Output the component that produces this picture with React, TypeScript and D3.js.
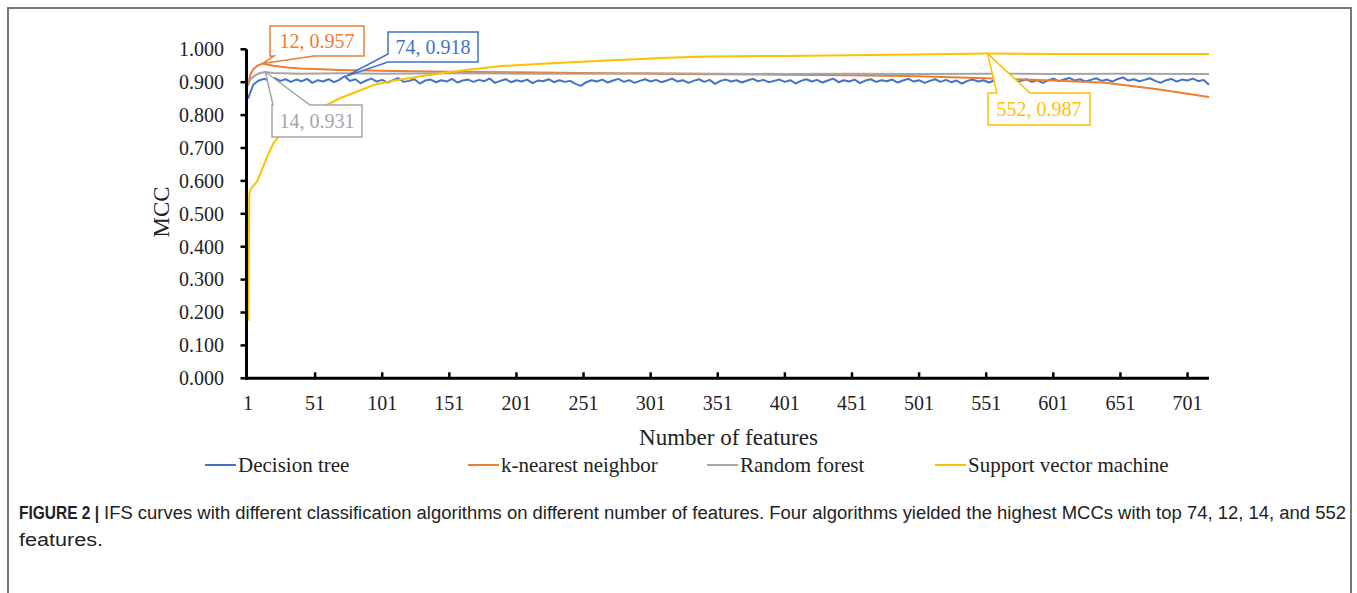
import * as d3 from 'd3'

const W = 1357
const H = 593

// category axis labels and value ticks
const xTicks = [1, 51, 101, 151, 201, 251, 301, 351, 401, 451, 501, 551, 601, 651, 701]
const yTicks = [0, 0.1, 0.2, 0.3, 0.4, 0.5, 0.6, 0.7, 0.8, 0.9, 1.0]

// decision tree, one value every 4 features starting at 1
const dtStep = 4
const dtValues = [
  0.850, 0.893, 0.905, 0.910, 0.906, 0.912, 0.904, 0.909, 0.901, 0.908, 0.903, 0.910, 0.898, 0.906, 0.902, 0.909, 0.900, 0.907, 0.918, 0.904,
  0.909, 0.897, 0.905, 0.911, 0.902, 0.907, 0.899, 0.906, 0.912, 0.901, 0.904, 0.909, 0.896, 0.905, 0.908, 0.900, 0.906, 0.902, 0.910, 0.899,
  0.905, 0.908, 0.901, 0.907, 0.903, 0.911, 0.898, 0.904, 0.909, 0.900, 0.906, 0.902, 0.908, 0.897, 0.905, 0.903, 0.909, 0.900, 0.906, 0.901,
  0.904, 0.895, 0.889, 0.900, 0.906, 0.902, 0.908, 0.899, 0.905, 0.910, 0.901, 0.906, 0.898, 0.904, 0.909, 0.902, 0.907, 0.900, 0.905, 0.911,
  0.902, 0.906, 0.898, 0.904, 0.909, 0.901, 0.907, 0.895, 0.904, 0.908, 0.902, 0.906, 0.899, 0.905, 0.910, 0.903, 0.907, 0.900, 0.904, 0.908,
  0.901, 0.906, 0.896, 0.904, 0.909, 0.902, 0.907, 0.899, 0.905, 0.911, 0.900, 0.906, 0.902, 0.908, 0.897, 0.905, 0.909, 0.901, 0.906, 0.903,
  0.908, 0.899, 0.905, 0.910, 0.902, 0.906, 0.898, 0.904, 0.909, 0.901, 0.907, 0.900, 0.905, 0.896, 0.904, 0.908, 0.902, 0.906, 0.899, 0.905,
  0.910, 0.903, 0.907, 0.900, 0.904, 0.909, 0.901, 0.906, 0.898, 0.905, 0.911, 0.903, 0.908, 0.913, 0.905, 0.909, 0.902, 0.907, 0.912, 0.904,
  0.908, 0.902, 0.910, 0.914, 0.905, 0.909, 0.903, 0.907, 0.912, 0.904, 0.898, 0.906, 0.910, 0.902, 0.908, 0.905, 0.911, 0.903, 0.907, 0.892,
]

const knnFeatures = [1, 2, 3, 5, 8, 12, 16, 20, 30, 40, 50, 70, 100, 150, 200, 250, 300, 350, 400, 450, 500, 550, 600, 640, 680, 717]
const knnValues = [0.890, 0.910, 0.925, 0.940, 0.950, 0.957, 0.953, 0.950, 0.945, 0.942, 0.940, 0.937, 0.935, 0.932, 0.930, 0.928, 0.926, 0.924, 0.923, 0.921, 0.918, 0.912, 0.905, 0.898, 0.878, 0.855]

const rfFeatures = [1, 3, 6, 10, 14, 20, 40, 70, 100, 150, 200, 250, 300, 350, 400, 450, 500, 550, 600, 650, 717]
const rfValues = [0.890, 0.910, 0.920, 0.928, 0.931, 0.928, 0.926, 0.927, 0.926, 0.927, 0.926, 0.926, 0.927, 0.926, 0.925, 0.926, 0.925, 0.926, 0.925, 0.926, 0.925]

const svmFeatures = [1, 2, 3, 5, 8, 12, 16, 20, 25, 30, 40, 50, 60, 70, 80, 95, 110, 130, 150, 170, 190, 220, 264, 290, 313, 343, 400, 450, 500, 552, 600, 650, 717]
const svmValues = [0.175, 0.560, 0.575, 0.585, 0.600, 0.640, 0.680, 0.715, 0.740, 0.765, 0.795, 0.812, 0.832, 0.852, 0.868, 0.892, 0.905, 0.918, 0.930, 0.940, 0.949, 0.956, 0.965, 0.970, 0.974, 0.978, 0.980, 0.982, 0.984, 0.987, 0.986, 0.986, 0.986]

const seriesNames = ['Decision tree', 'k-nearest neighbor', 'Random forest', 'Support vector machine']
const seriesColors = ['#4472C4', '#ED7D31', '#A5A5A5', '#FFC000']

// best feature count and MCC per algorithm
const peakFeatures = [74, 12, 14, 552]
const peakValues = [0.918, 0.957, 0.931, 0.987]

const captionBold = 'FIGURE 2 |'
const captionLine1 = 'IFS curves with different classification algorithms on different number of features. Four algorithms yielded the highest MCCs with top 74, 12, 14, and 552'
const captionLine2 = 'features.'

const serif = '"Liberation Serif", "Times New Roman", serif'
const sans = '"Liberation Sans Narrow", "Liberation Sans", Arial, sans-serif'

const x = d3.scaleLinear().domain([1, 717]).range([248, 1209])
const y = d3.scaleLinear().domain([0, 1]).range([378.3, 49.3])

const dtFeatures = dtValues.map((_, i) => 1 + i * dtStep)

const series = [
  { f: dtFeatures, v: dtValues },
  { f: knnFeatures, v: knnValues },
  { f: rfFeatures, v: rfValues },
  { f: svmFeatures, v: svmValues },
]

const line = d3.line<[number, number]>().x(d => x(d[0])).y(d => y(d[1]))

// callout boxes (layout only)
const callouts = [
  { box: { x: 388, y: 32, w: 90, h: 30 }, side: 'left', s0: 54, s1: 62 },
  { box: { x: 270, y: 26, w: 94, h: 30 }, side: 'bottom', s0: 274, s1: 314 },
  { box: { x: 272, y: 105, w: 90, h: 32 }, side: 'top', s0: 273, s1: 310 },
  { box: { x: 988, y: 93, w: 102, h: 32 }, side: 'top', s0: 997, s1: 1030 },
]

function calloutPath(b: { x: number; y: number; w: number; h: number }, side: string, s0: number, s1: number, ax: number, ay: number) {
  const { x: bx, y: by, w, h } = b
  if (side === 'top')
    return `M${bx},${by}L${s0},${by}L${ax},${ay}L${s1},${by}L${bx + w},${by}L${bx + w},${by + h}L${bx},${by + h}Z`
  if (side === 'bottom')
    return `M${bx},${by}L${bx + w},${by}L${bx + w},${by + h}L${s1},${by + h}L${ax},${ay}L${s0},${by + h}L${bx},${by + h}Z`
  return `M${bx},${by}L${bx + w},${by}L${bx + w},${by + h}L${bx},${by + h}L${bx},${s1}L${ax},${ay}L${bx},${s0}Z`
}

const legendLineX = [205, 468, 707, 935]
const legendY = 472

export default function App() {
  const x0 = x.range()[0]
  const x1 = x.range()[1]
  const y0 = y(0)
  const axisX = x0 - 1.5
  return (
    <svg width={W} height={H} style={{ position: 'absolute', left: 0, top: 0, display: 'block', background: '#fff' }}>
      <rect x={8} y={8} width={1343} height={620} fill="none" stroke="#777" strokeWidth={2} />

      <g className="series" fill="none" strokeWidth={2} strokeLinejoin="round">
        {series.map((s, i) => (
          <path key={i} d={line(s.f.map((f, j) => [f, s.v[j]] as [number, number])) || ''} stroke={seriesColors[i]} />
        ))}
      </g>

      <g className="axis left" fontFamily={serif} fontSize={20} fill="#222">
        <line x1={axisX} x2={axisX} y1={y(1)} y2={y0 + 1.5} stroke="#000" strokeWidth={3} />
        {yTicks.map(t => (
          <g key={t}>
            <line x1={axisX - 6} x2={axisX} y1={y(t)} y2={y(t)} stroke="#000" strokeWidth={2.5} />
            <text x={224} y={y(t)} dy="0.34em" textAnchor="end">{d3.format('.3f')(t)}</text>
          </g>
        ))}
      </g>

      <g className="axis bottom" fontFamily={serif} fontSize={20} fill="#222">
        <line x1={axisX - 1.5} x2={x1} y1={y0} y2={y0} stroke="#000" strokeWidth={3} />
        {xTicks.map(t => (
          <g key={t}>
            {t > 1 && <line x1={x(t)} x2={x(t)} y1={y0} y2={y0 - 6} stroke="#000" strokeWidth={2.5} />}
            <text x={x(t)} y={410} textAnchor="middle">{t}</text>
          </g>
        ))}
      </g>

      <text transform="translate(169,212) rotate(-90)" textAnchor="middle" fontFamily={serif} fontSize={23} fill="#222">MCC</text>
      <text x={(x0 + x1) / 2} y={445} textAnchor="middle" fontFamily={serif} fontSize={23} fill="#222">Number of features</text>

      <g className="callouts" fontFamily={serif} fontSize={20}>
        {callouts.map((c, i) => {
          const ax = x(peakFeatures[i])
          const ay = y(peakValues[i])
          return (
            <g key={i}>
              <path d={calloutPath(c.box, c.side, c.s0, c.s1, ax, ay)} fill="#fff" stroke={seriesColors[i]} strokeWidth={1.5} />
              <text x={c.box.x + c.box.w / 2} y={c.box.y + c.box.h / 2} dy="0.35em" textAnchor="middle" fill={seriesColors[i]}>
                {`${peakFeatures[i]}, ${peakValues[i].toFixed(3)}`}
              </text>
            </g>
          )
        })}
      </g>

      <g className="legend" fontFamily={serif} fontSize={21} fill="#222">
        {seriesNames.map((n, i) => (
          <g key={n}>
            <line x1={legendLineX[i]} x2={legendLineX[i] + 31} y1={legendY - 7} y2={legendY - 7} stroke={seriesColors[i]} strokeWidth={2} />
            <text x={legendLineX[i] + 33} y={legendY}>{n}</text>
          </g>
        ))}
      </g>

      <g className="caption" fontFamily={sans} fontSize={18} fill="#222">
        <text x={19} y={519} fontWeight="bold" textLength={80} lengthAdjust="spacingAndGlyphs">{captionBold}</text>
        <text x={104} y={519} textLength={1242} lengthAdjust="spacingAndGlyphs">{captionLine1}</text>
        <text x={19} y={546} textLength={84} lengthAdjust="spacingAndGlyphs">{captionLine2}</text>
      </g>
    </svg>
  )
}
